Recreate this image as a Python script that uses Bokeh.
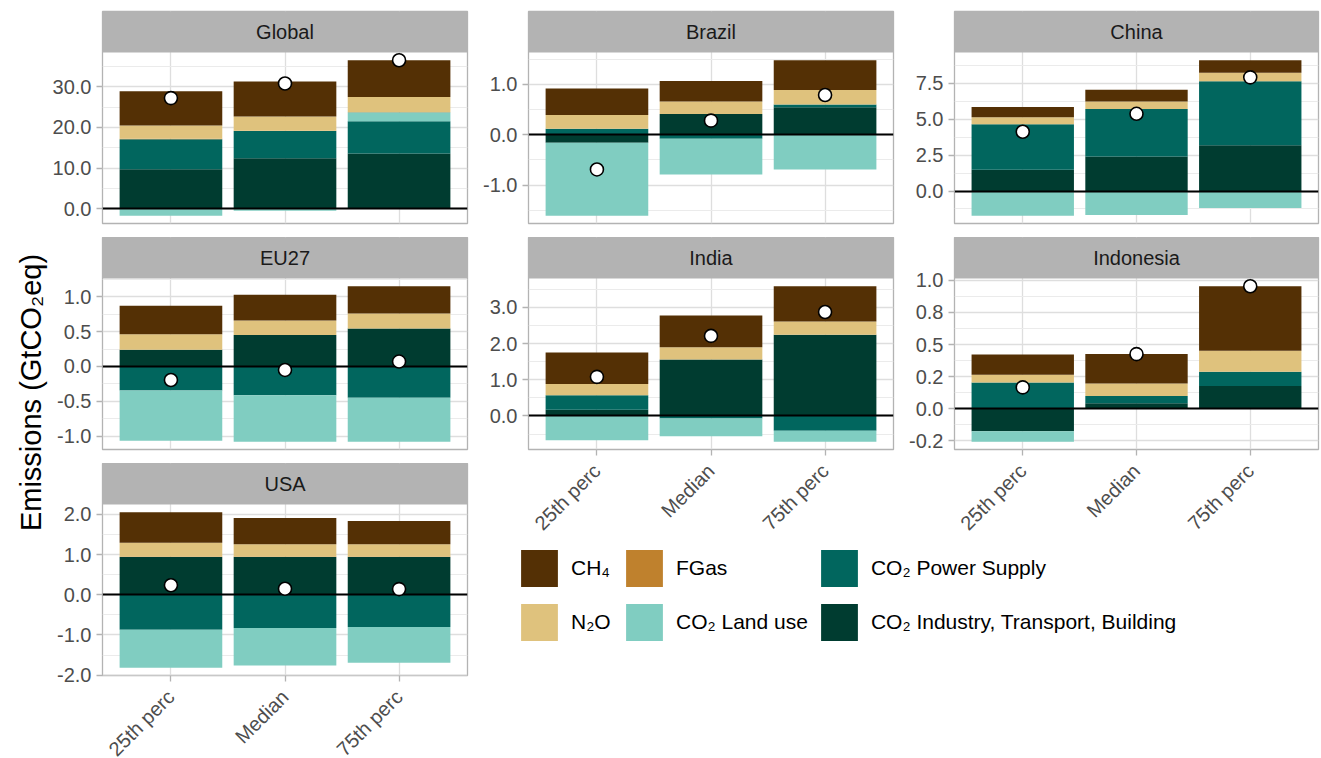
import math
import numpy as np
from bokeh.plotting import figure
from bokeh.layouts import row, column
from bokeh.models import (Range1d, FixedTicker, LinearAxis, Grid, Label, BoxAnnotation,
                          Legend, LegendItem, PrintfTickFormatter)
from bokeh.embed import file_html
from bokeh.resources import INLINE

# ---------------------------------------------------------------- data
regions = ["Global", "Brazil", "China", "EU27", "India", "Indonesia", "USA"]
scenarios = ["25th perc", "Median", "75th perc"]

# emissions by gas / sector, GtCO2eq (rows follow `regions`, columns `scenarios`)
ch4 = [
    [8.4, 8.6, 9.0],
    [0.53, 0.41, 0.59],
    [0.71, 0.81, 0.87],
    [0.41, 0.37, 0.39],
    [0.87, 0.87, 0.97],
    [0.158, 0.228, 0.502],
    [0.76, 0.654, 0.574],
]
n2o = [
    [3.3, 3.5, 3.7],
    [0.27, 0.25, 0.29],
    [0.48, 0.53, 0.60],
    [0.22, 0.21, 0.215],
    [0.31, 0.34, 0.37],
    [0.06, 0.098, 0.164],
    [0.34, 0.306, 0.306],
]
fgas = [
    [0.1, 0.1, 0.1],
    [0.0, 0.0, 0.0],
    [0.0, 0.0, 0.0],
    [0.0, 0.0, 0.0],
    [0.0, 0.0, 0.0],
    [0.0, 0.0, 0.0],
    [0.015, 0.015, 0.015],
]
co2_landuse = [
    [-1.7, -0.5, 2.2],
    [-1.45, -0.71, -0.69],
    [-1.72, -1.67, -1.19],
    [-0.72, -0.665, -0.632],
    [-0.67, -0.49, -0.30],
    [-0.082, 0.0, 0.0],
    [-0.945, -0.93, -0.885],
]
co2_power = [
    [7.4, 6.7, 7.9],
    [0.12, -0.08, 0.055],
    [3.17, 3.30, 4.45],
    [-0.345, -0.415, -0.448],
    [0.40, -0.07, -0.41],
    [0.205, 0.056, 0.111],
    [-0.87, -0.83, -0.805],
]
co2_industry = [
    [9.7, 12.4, 13.6],
    [-0.16, 0.41, 0.545],
    [1.49, 2.41, 3.19],
    [0.24, 0.45, 0.545],
    [0.17, 1.56, 2.24],
    [-0.174, 0.044, 0.177],
    [0.935, 0.935, 0.935],
]

# y-axis breaks per region
y_ticks = [
    [0, 10, 20, 30],
    [-1, 0, 1],
    [0, 2.5, 5, 7.5],
    [-1, -0.5, 0, 0.5, 1],
    [0, 1, 2, 3],
    [-0.25, 0, 0.25, 0.5, 0.75, 1.0],
    [-2, -1, 0, 1, 2],
]
y_tick_labels = [
    ["0.0", "10.0", "20.0", "30.0"],
    ["-1.0", "0.0", "1.0"],
    ["0.0", "2.5", "5.0", "7.5"],
    ["-1.0", "-0.5", "0.0", "0.5", "1.0"],
    ["0.0", "1.0", "2.0", "3.0"],
    ["-0.2", "0.0", "0.2", "0.5", "0.8", "1.0"],
    ["-2.0", "-1.0", "0.0", "1.0", "2.0"],
]
y_minor = [
    [-5, 5, 15, 25, 35],
    [-1.5, -0.5, 0.5, 1.5],
    [-1.25, 1.25, 3.75, 6.25, 8.75],
    [-1.25, -0.75, -0.25, 0.25, 0.75, 1.25],
    [-0.5, 0.5, 1.5, 2.5, 3.5],
    [-0.375, -0.125, 0.125, 0.375, 0.625, 0.875],
    [-1.5, -0.5, 0.5, 1.5],
]

legend_labels = ["CH\u2084", "N\u2082O", "FGas", "CO\u2082 Land use",
                 "CO\u2082 Power Supply", "CO\u2082 Industry, Transport, Building"]
legend_colors = ["#543005", "#DFC27D", "#BF812D", "#80CDC1", "#01665E", "#003C30"]

# ---------------------------------------------------------------- style
FONT = "Liberation Sans"
STRIP_FILL = "#B3B3B3"
BORDER = "#B3B3B3"
GRID_MAJOR = "#DEDEDE"
GRID_MINOR = "#EBEBEB"
TICK_TEXT = "#4D4D4D"

FRAME_W = 365
FRAME_H = 171      # data area of one facet
STRIP_H = 41       # facet header drawn on top of the data area
LEFT = 54

# stacking order, from the zero line outward
stack_series = [co2_industry, co2_power, co2_landuse, fgas, n2o, ch4]
stack_colors = ["#003C30", "#01665E", "#80CDC1", "#BF812D", "#DFC27D", "#543005"]


def facet(i, right, top, bottom, show_x):
    xs = np.arange(1, len(scenarios) + 1)
    pos = np.zeros(len(scenarios))
    neg = np.zeros(len(scenarios))
    segments = []
    for series, color in zip(stack_series, stack_colors):
        v = np.array(series[i], dtype=float)
        base = np.where(v >= 0, pos, neg)
        segments.append((base.copy(), base + v, color))
        pos = pos + np.clip(v, 0, None)
        neg = neg + np.clip(v, None, 0)
    net = np.sum([np.array(s[i], dtype=float) for s in stack_series], axis=0)

    lo = min(neg.min(), net.min(), 0.0)
    hi = max(pos.max(), net.max(), 0.0)
    pad = 0.05 * (hi - lo)
    y0, y1 = lo - pad, hi + pad
    per_px = (y1 - y0) / FRAME_H
    y_strip_top = y1 + STRIP_H * per_px

    fw = FRAME_W if right != 3 else FRAME_W - 1
    p = figure(frame_width=fw, frame_height=FRAME_H + STRIP_H,
               x_range=Range1d(0.4, len(scenarios) + 0.6),
               y_range=Range1d(y0, y_strip_top),
               x_axis_location=None, y_axis_location=None,
               min_border_left=LEFT, min_border_right=right,
               min_border_top=top, min_border_bottom=bottom,
               background_fill_color="white", border_fill_color="white",
               outline_line_color=BORDER, outline_line_width=1.3,
               output_backend="svg", toolbar_location=None)
    p.center = [r for r in p.center if not isinstance(r, Grid)]

    majors = [t for t in y_ticks[i] if y0 <= t <= y1]
    minors = [t for t in y_minor[i] if y0 <= t <= y1]
    xt = FixedTicker(ticks=list(xs))
    yt = FixedTicker(ticks=majors, minor_ticks=minors)

    p.add_layout(Grid(dimension=0, ticker=xt, grid_line_color=GRID_MAJOR,
                      grid_line_width=1.3))
    p.add_layout(Grid(dimension=1, ticker=yt, grid_line_color=GRID_MAJOR,
                      grid_line_width=1.3, minor_grid_line_color=GRID_MINOR,
                      minor_grid_line_width=1))

    yaxis = LinearAxis(ticker=yt, formatter=PrintfTickFormatter(format="%.1f"),
                       major_label_overrides=dict(zip(y_ticks[i], y_tick_labels[i])),
                       axis_line_color=None, major_tick_line_color=BORDER,
                       major_tick_line_width=1.3, major_tick_out=6, major_tick_in=0,
                       minor_tick_line_color=None, major_label_standoff=5,
                       major_label_text_font=FONT, major_label_text_font_size="20px",
                       major_label_text_color=TICK_TEXT)
    p.add_layout(yaxis, "left")

    if show_x:
        xaxis = LinearAxis(ticker=xt,
                           major_label_overrides={int(x): s for x, s in zip(xs, scenarios)},
                           axis_line_color=None, major_tick_line_color=BORDER,
                           major_tick_line_width=1.3, major_tick_out=6, major_tick_in=0,
                           minor_tick_line_color=None, major_label_standoff=12,
                           major_label_orientation=math.pi / 4,
                           major_label_text_font=FONT, major_label_text_font_size="20px",
                           major_label_text_color=TICK_TEXT)
        p.add_layout(xaxis, "below")

    for bottom_v, top_v, color in segments:
        p.vbar(x=xs, bottom=bottom_v, top=top_v, width=0.9,
               fill_color=color, line_color=None)

    p.hspan(y=[0], line_color="black", line_width=2.2)
    p.scatter(x=xs, y=net, marker="circle", size=13, fill_color="white",
              line_color="black", line_width=1.6)

    # facet header
    p.add_layout(BoxAnnotation(bottom=y1, top=y_strip_top, fill_color=STRIP_FILL,
                               fill_alpha=1.0, line_color=None))
    p.add_layout(Label(x=(len(scenarios) + 1) / 2, y=y1 + STRIP_H / 2 * per_px,
                       text=regions[i], text_align="center", text_baseline="middle",
                       text_font=FONT, text_font_size="20px", text_color="#1A1A1A"))
    return p


# ---------------------------------------------------------------- y title
ytitle = figure(width=48, height=758, x_range=Range1d(0, 48), y_range=Range1d(0, 758),
                x_axis_location=None, y_axis_location=None, min_border=0,
                outline_line_color=None, output_backend="svg", toolbar_location=None)
ytitle.grid.visible = False
ytitle.add_layout(Label(x=30, y=366, text="Emissions (GtCO\u2082eq)", angle=math.pi / 2,
                        text_align="center", text_baseline="middle", text_font=FONT,
                        text_font_size="29px", text_color="black"))

idx = {name: k for k, name in enumerate(regions)}

col1 = column(
    facet(idx["Global"], 7, 11, 14, False),
    facet(idx["EU27"], 7, 0, 14, False),
    facet(idx["USA"], 7, 0, 83, True),
)
col2 = column(
    facet(idx["Brazil"], 7, 11, 14, False),
    facet(idx["India"], 7, 0, 83, True),
)
col3 = column(
    facet(idx["China"], 3, 11, 14, False),
    facet(idx["Indonesia"], 3, 0, 83, True),
)

# ---------------------------------------------------------------- legend
leg = figure(width=847, height=226, x_range=Range1d(0, 1), y_range=Range1d(0, 1),
             x_axis_location=None, y_axis_location=None,
             min_border_left=42, min_border_top=0, min_border_right=0,
             min_border_bottom=0, outline_line_color=None,
             output_backend="svg", toolbar_location=None)
leg.grid.visible = False
items = []
for lab, color in zip(legend_labels, legend_colors):
    # key glyph only; the bar itself sits outside the visible range
    r = leg.vbar(x=[5], bottom=[0], top=[1], width=0.9, fill_color=color, line_color=None)
    items.append(LegendItem(label=lab, renderers=[r]))
legend = Legend(items=items, nrows=2, location="top_left", glyph_width=46,
                glyph_height=46, label_standoff=9, label_width=42, spacing=8,
                padding=0, margin=0, border_line_color=None, background_fill_alpha=0,
                label_text_font=FONT, label_text_font_size="21px",
                label_text_color="black")
leg.add_layout(legend)

layout = row(ytitle, col1, column(row(col2, col3), leg))

open("out.html", "w").write(file_html(layout, INLINE))
